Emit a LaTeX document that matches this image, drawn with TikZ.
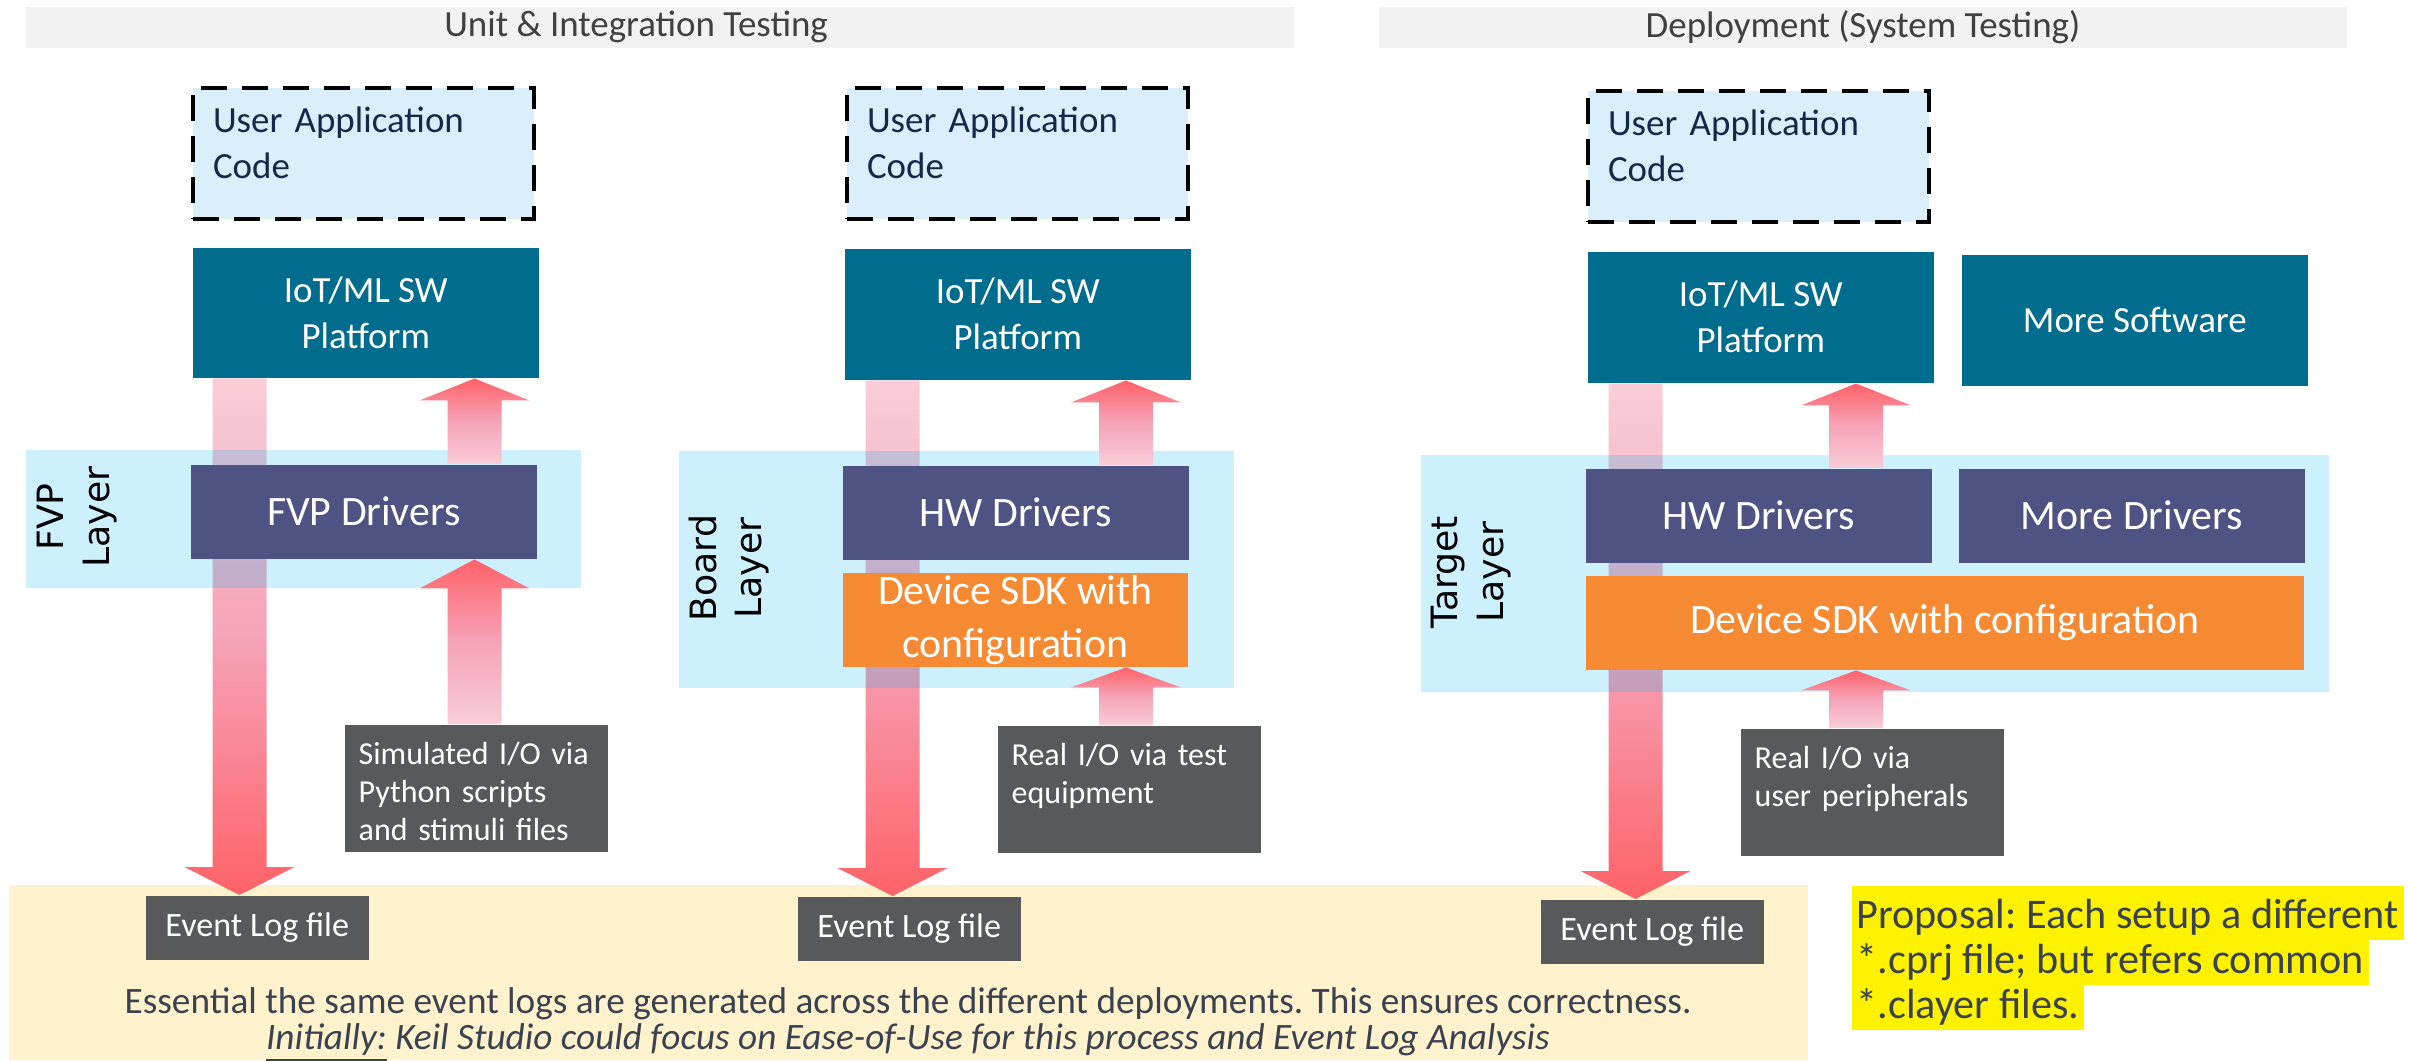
\documentclass[tikz,border=0pt]{standalone}
\usepackage{fontspec}
\setmainfont{Carlito}
\newfontfamily\layerfont{DejaVu Sans}
\usetikzlibrary{calc}
\definecolor{hdrgray}{HTML}{F2F2F2}
\definecolor{hdrtext}{HTML}{404040}
\definecolor{appblue}{HTML}{DAEEFB}
\definecolor{appnavy}{HTML}{12294A}
\definecolor{pfteal}{HTML}{006C8E}
\definecolor{drvblue}{HTML}{4E5383}
\definecolor{sdkorange}{HTML}{F58A33}
\definecolor{layercyan}{RGB}{0,180,245}
\definecolor{boxgray}{HTML}{58595B}
\definecolor{notecream}{HTML}{FFF2CC}
\definecolor{notetext}{HTML}{3A4150}
\definecolor{pinklight}{RGB}{249,205,216}
\definecolor{pinkmid}{RGB}{245,163,184}
\definecolor{arrred}{RGB}{255,98,104}
\pgfdeclarelayer{back}
\pgfdeclarelayer{arrows}
\pgfdeclarelayer{bands}
\pgfsetlayers{back,arrows,bands,main}
\tikzset{
    SZ/.style 2 args={minimum width=#1, minimum height=#2},
    HB/.style ={anchor=north west, fill=hdrgray, text=hdrtext, inner sep=0, font=\fontsize{10.5}{13}\selectfont},
    NB/.style ={anchor=north west, fill=notecream, inner sep=0},
    UA/.style ={anchor=north west, draw=black, line width=0.04cm, dash pattern=on 0.26cm off 0.15cm,
        fill=appblue, text=appnavy, align=left, text width=3.01cm, inner xsep=0.2cm, inner ysep=0,
        text height=0.44cm, text depth=0.87cm, font=\fontsize{10.5}{13.1}\selectfont},
    PF/.style ={anchor=north west, fill=pfteal, text=white, align=center, inner sep=0, font=\fontsize{10.5}{13.1}\selectfont},
    DR/.style ={anchor=north west, fill=drvblue, text=white, inner sep=0, SZ={3.46cm}{0.94cm}, font=\fontsize{11.9}{15.1}\selectfont},
    SD/.style ={anchor=north west, fill=sdkorange, text=white, align=center, inner sep=0, minimum height=0.94cm, font=\fontsize{11.9}{15.1}\selectfont},
    LY/.style ={anchor=north west, fill=layercyan, fill opacity=0.2, inner sep=0},
    LT/.style ={rotate=90, align=center, inner sep=0, font=\layerfont\fontsize{10.3}{13}\selectfont},
    GB/.style ={anchor=north west, fill=boxgray, text=white, align=left, text width=2.35cm, inner xsep=0.14cm, inner ysep=0,
        text height=0.40cm, text depth=0.87cm, font=\fontsize{9.1}{10.8}\selectfont},
    EL/.style ={anchor=north west, fill=boxgray, text=white, inner sep=0, SZ={2.23cm}{0.64cm}, font=\fontsize{9.7}{11}\selectfont},
    FD/.style ={shade, top color=pinklight, bottom color=arrred, middle color=pinkmid},
    FU/.style ={shade, top color=arrred, bottom color=pinklight, middle color=pinkmid},
    PR/.style ={anchor=base west, fill=yellow, text=notetext, inner xsep=0.05cm, inner ysep=0, text depth=0.12cm, font=\fontsize{12}{13}\selectfont},
    BT/.style ={anchor=base, text=notetext, inner sep=0, font=\fontsize{10.6}{12}\selectfont}}
\newcommand\fatarrow[4]{%
    \path[#1] ($(#2)+(-27,0)$) -- ($(#3)+(-27,#4)$) -- ($(#3)+(-55,#4)$) -- (#3)
        -- ($(#3)+(55,#4)$) -- ($(#3)+(27,#4)$) -- ($(#2)+(27,0)$) -- cycle;}
\begin{document}
\frenchspacing
\begin{tikzpicture}[x=0.01cm,y=-0.01cm]
    \useasboundingbox (0,0) rectangle (2427,1061);
    \begin{pgfonlayer}{back}
        \node[HB,SZ={12.68cm}{0.41cm}] (hdr1) at (25,6) {\hspace*{-0.48cm}Unit \& Integration Testing};
        \node[HB,SZ={9.68cm}{0.41cm}] (hdr2) at (1378,6) {Deployment (System Testing)};
        \node[NB,SZ={17.98cm}{1.75cm}] (note) at (8,884) {};
    \end{pgfonlayer}
    \node[UA] (app1) at (191,86) {User Application\\Code};
    \node[UA] (app2) at (845,86) {User Application\\Code};
    \node[UA] (app3) at (1586,89) {User Application\\Code};
    \node[PF,SZ={3.46cm}{1.30cm}] (iot1) at (192,247) {IoT/ML SW\\Platform};
    \node[PF,SZ={3.46cm}{1.31cm}] (iot2) at (844,248) {IoT/ML SW\\Platform};
    \node[PF,SZ={3.46cm}{1.31cm}] (iot3) at (1587,251) {IoT/ML SW\\Platform};
    \node[PF,SZ={3.46cm}{1.31cm}] (moresw) at (1961,254) {More Software};
    \begin{pgfonlayer}{bands}
        \node[LY,SZ={5.55cm}{1.38cm}] (band1) at (25,449) {};
        \node[LY,SZ={5.55cm}{2.37cm}] (band2) at (678,450) {};
        \node[LY,SZ={9.08cm}{2.37cm}] (band3) at (1420,454) {};
    \end{pgfonlayer}
    \node[LT] (lay1) at (77,517) {FVP\\Layer};
    \node[LT] (lay2) at (729,568) {Board\\Layer};
    \node[LT] (lay3) at (1471,572) {Target\\Layer};
    \node[DR] (drv1) at (190,464) {FVP Drivers};
    \node[DR] (drv2) at (842,465) {HW Drivers};
    \node[DR] (drv3) at (1585,468) {HW Drivers};
    \node[DR] (moredrv) at (1958,468) {More Drivers};
    \node[SD,minimum width=3.45cm] (sdk2) at (842,572) {Device SDK with\\configuration};
    \node[SD,minimum width=7.18cm] (sdk3) at (1585,575) {Device SDK with configuration};
    \node[GB] (io1) at (344,724) {Simulated I/O via\\Python scripts\\and stimuli files};
    \node[GB] (io2) at (997,725) {Real I/O via test\\equipment};
    \node[GB] (io3) at (1740,728) {Real I/O via\\user peripherals};
    \foreach \n/\x/\y in {1/145/895,2/797/896,3/1540/899}
        \node[EL] (log\n) at (\x,\y) {Event Log file};
    \coordinate (a1) at (239.5,0);
    \coordinate (a2) at (892.5,0);
    \coordinate (a3) at (1635.5,0);
    \coordinate (b1) at (474.5,0);
    \coordinate (b2) at (1126,0);
    \coordinate (b3) at (1856,0);
    \begin{pgfonlayer}{arrows}
        \foreach \c in {1,2,3}
            {\fatarrow{FD}{iot\c.south -| a\c}{log\c.north -| a\c}{-28}}
    \end{pgfonlayer}
    \foreach \c in {1,2,3}
        {\fatarrow{FU}{drv\c.north -| b\c}{iot\c.south -| b\c}{22}}
    \fatarrow{FU}{io1.north -| b1}{drv1.south -| b1}{29}
    \fatarrow{FU}{io2.north -| b2}{sdk2.south -| b2}{20}
    \fatarrow{FU}{io3.north -| b3}{sdk3.south -| b3}{20}
    \node[PR,text height=0.42cm] (prop1) at (1851,928) {Proposal: Each setup a different};
    \node[PR,text height=0.34cm] (prop2) at (1851,973) {*.cprj file; but refers common};
    \node[PR,text height=0.33cm] (prop3) at (1851,1018) {*.clayer files.};
    \node[BT] (bt1) at (908,1013) {Essential the same event logs are generated across the different deployments. This ensures correctness.};
    \node[BT,font=\fontsize{10.6}{12}\selectfont\itshape] (bt2) at (908,1049) {\underline{Initially:} Keil Studio could focus on Ease-of-Use for this process and Event Log Analysis};
\end{tikzpicture}
\end{document}
